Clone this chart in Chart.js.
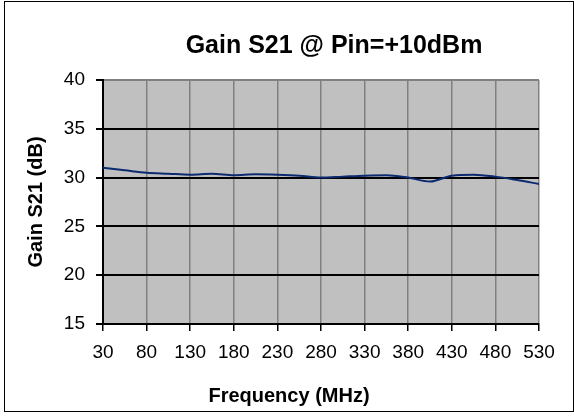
<!DOCTYPE html>
<html>
<head>
<meta charset="utf-8">
<script src="https://cdn.jsdelivr.net/npm/chart.js@4/dist/chart.umd.min.js"></script>
<style>
  html, body { margin: 0; padding: 0; background: #fff; }
  #wrap { width: 574px; height: 418px; }
</style>
</head>
<body>
<div id="wrap"><canvas id="chart"></canvas></div>
<script>
// data
const frequencies = [30, 55, 80, 105, 130, 155, 180, 205, 230, 255, 280, 305, 330, 355, 380, 405, 430, 455, 480, 505, 530];
const gainS21 = [31.0, 30.75, 30.5, 30.4, 30.3, 30.4, 30.25, 30.35, 30.3, 30.2, 30.0, 30.1, 30.2, 30.25, 30.0, 29.6, 30.2, 30.3, 30.1, 29.75, 29.35];
const xTicks = [30, 80, 130, 180, 230, 280, 330, 380, 430, 480, 530];
const yTicks = [15, 20, 25, 30, 35, 40];

const chartTitle = 'Gain S21 @ Pin=+10dBm';
const xTitle = 'Frequency (MHz)';
const yTitle = 'Gain S21 (dB)';

const FONT = "'Liberation Sans', Arial, sans-serif";

const chart_canvas = document.getElementById('chart');

// grey plot area + outer frame + titles
const decor = {
    id: 'decor',
    beforeDraw(chart) {
        const ctx = chart.ctx;
        const a = chart.chartArea;
        ctx.save();
        ctx.fillStyle = '#fff';
        ctx.fillRect(0, 0, chart.width, chart.height);
        ctx.fillStyle = '#c0c0c0';
        ctx.fillRect(a.left, a.top, a.right - a.left, a.bottom - a.top);
        ctx.strokeStyle = '#000';
        ctx.lineWidth = 1;
        ctx.strokeRect(4.5, 1.5, 569, 410);
        ctx.restore();
    },
    afterDraw(chart) {
        const ctx = chart.ctx;
        ctx.save();
        ctx.fillStyle = '#000';
        ctx.textAlign = 'center';
        ctx.textBaseline = 'middle';
        ctx.font = 'bold 25px ' + FONT;
        ctx.fillText(chartTitle, 334, 46);
        ctx.font = 'bold 20px ' + FONT;
        ctx.fillText(xTitle, 289, 396);
        ctx.restore();
    }
};

const config = {
    type: 'line',
    data: {
        datasets: [{
            label: yTitle,
            data: frequencies.map((f, i) => ({ x: f, y: gainS21[i] })),
            borderColor: '#0b2a6f',
            borderWidth: 2,
            pointRadius: 0,
            tension: 0.4,
            cubicInterpolationMode: 'monotone',
            fill: false
        }]
    },
    options: {
        responsive: true,
        maintainAspectRatio: false,
        animation: false,
        layout: { padding: { top: 80, right: 35, bottom: 0, left: 0 } },
        plugins: {
            legend: { display: false },
            tooltip: { enabled: false }
        },
        scales: {
            x: {
                type: 'linear',
                min: 30,
                max: 530,
                afterBuildTicks: s => { s.ticks = xTicks.map(v => ({ value: v })); },
                afterFit: s => { s.height = 94; },
                grid: {
                    color: '#808080',
                    lineWidth: 1.5,
                    tickColor: '#000',
                    tickLength: 7
                },
                border: { color: '#000', width: 2 },
                ticks: {
                    color: '#000',
                    padding: 10,
                    maxRotation: 0,
                    font: { family: FONT, size: 19 }
                }
            },
            y: {
                min: 15,
                max: 40,
                afterBuildTicks: s => { s.ticks = yTicks.map(v => ({ value: v })); },
                afterFit: s => { s.width = 103; },
                grid: {
                    color: c => (c.tick && c.tick.value === 40) ? '#808080' : '#000',
                    lineWidth: 2,
                    tickColor: '#000',
                    tickLength: 7
                },
                border: { color: '#000', width: 2 },
                ticks: {
                    color: '#000',
                    padding: 11,
                    font: { family: FONT, size: 19 }
                },
                title: {
                    display: true,
                    text: yTitle,
                    color: '#000',
                    padding: { top: 24, bottom: 0 },
                    font: { family: FONT, size: 20, weight: 'bold' }
                }
            }
        }
    },
    plugins: [decor]
};

const chart = new Chart(chart_canvas, config);
</script>
</body>
</html>
